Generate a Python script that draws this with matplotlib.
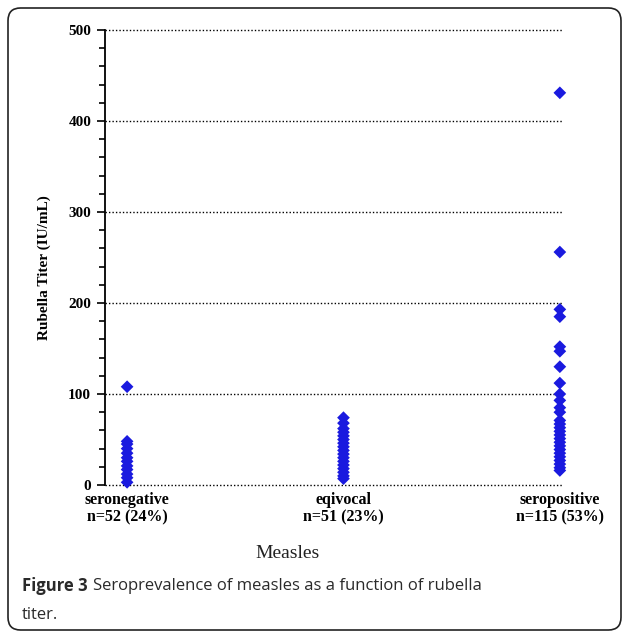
import numpy as np
import matplotlib.pyplot as plt
from matplotlib.patches import FancyBboxPatch
from matplotlib.ticker import MultipleLocator

categories = ["seronegative\nn=52 (24%)", "eqivocal\nn=51 (23%)", "seropositive\nn=115 (53%)"]
seroneg = [108, 48, 45, 40, 35, 30, 26, 21, 17, 12, 8, 3]
equiv = [74, 68, 62, 58, 54, 50, 46, 42, 38, 34, 30, 26, 22, 18, 14, 10, 7]
seropos = [431, 256, 193, 185, 152, 147, 130, 112, 100, 93, 85, 80, 71, 67, 63,
           59, 55, 51, 47, 43, 39, 35, 31, 27, 23, 19, 16]
groups = [seroneg, equiv, seropos]

fig = plt.figure(figsize=(6.27, 6.36), dpi=100)
ax = fig.add_axes([0.1675, 0.2374, 0.7285, 0.7154])

for i, vals in enumerate(groups):
    ax.scatter(np.full(len(vals), i + 1), vals, marker="D", s=42, color="#1a1adf",
               edgecolors="none", zorder=3, clip_on=False)

ax.set_ylim(0, 500)
ax.set_xlim(0.898, 3.009)
ax.yaxis.set_major_locator(MultipleLocator(100))
ax.yaxis.set_minor_locator(MultipleLocator(20))
for y in range(0, 501, 100):
    ax.axhline(y, color="black", lw=1, ls=(0, (1, 1.5)), zorder=1, clip_on=False)

for s in ["top", "right", "bottom"]:
    ax.spines[s].set_visible(False)
ax.spines["left"].set_linewidth(1.3)
ax.tick_params(axis="y", which="major", length=6, width=1.2, direction="out", pad=4)
ax.tick_params(axis="y", which="minor", length=4, width=1.2, direction="out")
ax.tick_params(axis="x", length=0, pad=5)
ax.set_xticks([1, 2, 3])
ax.set_xticklabels(categories, fontfamily="Liberation Serif", fontweight="bold", fontsize=11.5,
                   linespacing=1.15)
for lab in ax.get_yticklabels():
    lab.set_fontfamily("Liberation Serif")
    lab.set_fontweight("bold")
    lab.set_fontsize(11)

fig.text(44 / 627, 1 - 268 / 636, "Rubella Titer (IU/mL)", rotation=90, ha="center", va="center",
         fontfamily="Liberation Serif", fontweight="bold", fontsize=11)
fig.text(288 / 627, 1 - 553 / 636, "Measles", ha="center", va="center",
         fontfamily="Liberation Serif", fontsize=14, color="#222222")

cap_size = 12
t = fig.text(22 / 627, 1 - 586 / 636, "Figure 3", ha="left", va="center",
             fontfamily="Open Sans", fontweight="bold", fontsize=cap_size, color="#2a2a2a")
fig.canvas.draw()
x_end = t.get_window_extent().x1 / fig.bbox.width
fig.text(x_end + 5 / 627, 1 - 586 / 636, "Seroprevalence of measles as a function of rubella",
         ha="left", va="center", fontfamily="Open Sans", fontsize=cap_size, color="#2a2a2a")
fig.text(22 / 627, 1 - 615 / 636, "titer.", ha="left", va="center",
         fontfamily="Open Sans", fontsize=cap_size, color="#2a2a2a")

frame = FancyBboxPatch((8 / 627, 6 / 636), 613 / 627, 622 / 636,
                       boxstyle="round,pad=0,rounding_size=0.02",
                       transform=fig.transFigure, fill=False, edgecolor="#222222", lw=1.2)
fig.patches.append(frame)

fig.savefig("out.png", dpi=100)
